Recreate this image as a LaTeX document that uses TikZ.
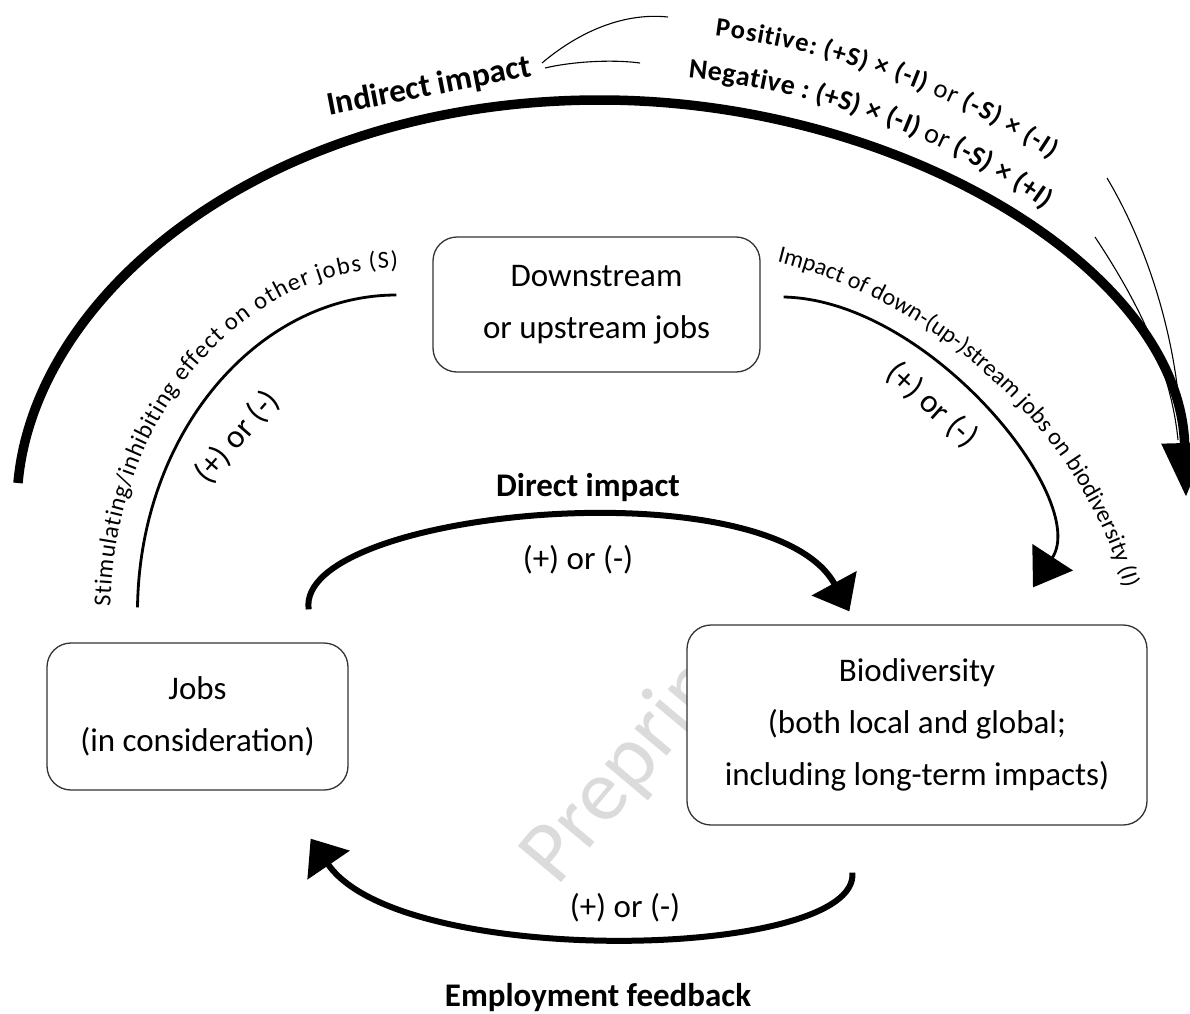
\documentclass[tikz,border=0pt]{standalone}
\usepackage{fontspec}
\setmainfont{Carlito}
\usetikzlibrary{arrows.meta,decorations.text}

\newcommand{\posfont}{\fontsize{26.5}{26.5}\selectfont}
\newcommand{\negfont}{\fontsize{28}{28}\selectfont}

\tikzset{
  box/.style={draw=black!80, line width=1.3pt, rounded corners=24pt, fill=white,
              align=center, inner sep=0pt, font=\fontsize{33}{52}\selectfont},
  label text/.style={font=\fontsize{33}{40}\selectfont},
  bold label/.style={font=\fontsize{33}{40}\selectfont\bfseries},
  indirect/.style={line width=9.5pt, -{Triangle[length=54pt,width=44pt]}},
  loop arrow/.style={line width=6pt, -{Triangle[length=32pt,width=50pt]}},
  chain/.style={line width=2.8pt},
  hair/.style={line width=1.1pt},
  watermark/.style={text=black!14, font=\fontsize{88}{88}\selectfont}
}

\begin{document}
\begin{tikzpicture}[x=1pt,y=-1pt]
\useasboundingbox (0,0) rectangle (1190,1013);

% watermark, partly under the biodiversity box
\node[watermark, rotate=50, anchor=base west] (wm) at (555,890) {Preprint};

% the three boxes
\node[box, minimum width=327pt, minimum height=135pt] (down) at (596.5,304.5) {Downstream\\or upstream jobs};
\node[box, minimum width=301pt, minimum height=147pt] (jobs) at (197.5,716.5) {Jobs\\(in consideration)};
\node[box, minimum width=460pt, minimum height=200pt] (bio) at (917,725) {Biodiversity\\(both local and global;\\including long-term impacts)};

% end points of the connectors
\coordinate (dstart) at ([xshift=-40pt,yshift=33pt]jobs.north east);
\coordinate (dend) at ([xshift=163pt,yshift=13pt]bio.north west);
\coordinate (fstart) at ([xshift=166pt,yshift=-47pt]bio.south west);
\coordinate (fend) at ([xshift=-38pt,yshift=-48pt]jobs.south east);
\coordinate (sstart) at ([xshift=-60pt,yshift=35pt]jobs.north);
\coordinate (send) at ([xshift=-36pt,yshift=9.5pt]down.west);
\coordinate (istart) at ([xshift=23pt,yshift=7.5pt]down.east);
\coordinate (iend) at ([xshift=116pt,yshift=37pt]bio.north);
\coordinate (indstart) at (18,483);
\coordinate (indtop) at (600,100);
\coordinate (indend) at (1186,497);

% direct impact and employment feedback
\draw[loop arrow] (dstart) .. controls (295,510) and (770,465) .. (dend);
\draw[loop arrow] (fstart) .. controls (860,960) and (400,970) .. (fend);
\node[bold label] (dirlab) at (588,488) {Direct impact};
\node[label text] (dirsign) at (578,560) {(+) or (-)};
\node[label text] (fbsign) at (625,908) {(+) or (-)};
\node[bold label] (fblab) at (598,997) {Employment feedback};

% jobs -> other jobs -> biodiversity
\draw[chain] (sstart) .. controls (140,430) and (260,295) .. (send);
\draw[chain, -{Triangle[length=36pt,width=48pt]}] (istart) .. controls (930,300) and (1090,500) .. (iend);
\path[decorate, decoration={text along path, raise=27pt,
  text={|\fontsize{24.5}{24.5}\selectfont|Stimulating/inhibiting effect on other jobs (S)}}]
  (sstart) .. controls (140,430) and (260,295) .. (send) -- ++(60,-2);
\path[decorate, decoration={text along path,
  text={|\fontsize{24}{24}\selectfont|Impact of down-(up-)stream jobs on biodiversity (I)}}]
  (777,262) .. controls (930,300) and (1090,430) .. (1130,610);
\node[label text, rotate=49] (ssign) at (237,437) {(+) or (-)};
\node[label text, rotate=-42] (isign) at (932,405) {(+) or (-)};

% indirect impact
\draw[hair] (1107,178) .. controls (1150,250) and (1180,350) .. (1181,440);
\draw[hair] (1095,237) .. controls (1130,290) and (1170,360) .. (1178,440);
\draw[indirect] (indstart) .. controls (35,290) and (270,100) .. (indtop)
  .. controls (900,100) and (1180,270) .. (indend);
\node[bold label, rotate=11] (indlab) at (429,87) {Indirect impact};
\draw[hair] (542,63) .. controls (575,35) and (620,12) .. (668,17);
\draw[hair] (545,68) .. controls (570,62) and (610,59) .. (640,63);
\path[decorate, decoration={text along path, raise=72pt, text align={left indent=105pt},
  text={|\posfont\bfseries|Positive: (+S) × (-I) |\posfont\mdseries|or |\posfont\bfseries|(-S) × (-I)}}]
  (indtop) .. controls (900,100) and (1180,270) .. (indend);
\path[decorate, decoration={text along path, raise=27pt, text align={left indent=85pt},
  text={|\negfont\bfseries|Negative : (+S) × (-I) |\negfont\mdseries|or |\negfont\bfseries|(-S) × (+I)}}]
  (indtop) .. controls (900,100) and (1180,270) .. (indend);
\end{tikzpicture}
\end{document}
